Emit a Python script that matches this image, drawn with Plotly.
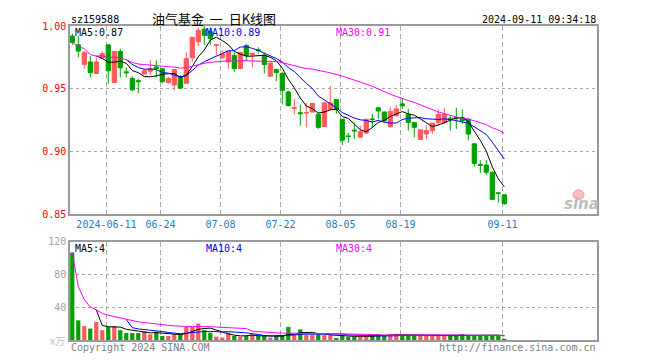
import plotly.graph_objects as go
import numpy as np

# ---------------- data ----------------
dates = [
    "2024-05-31",
    "2024-06-03", "2024-06-04", "2024-06-05", "2024-06-06", "2024-06-07",
    "2024-06-11", "2024-06-12", "2024-06-13", "2024-06-14",
    "2024-06-17", "2024-06-18", "2024-06-19", "2024-06-20", "2024-06-21",
    "2024-06-24", "2024-06-25", "2024-06-26", "2024-06-27", "2024-06-28",
    "2024-07-01", "2024-07-02", "2024-07-03", "2024-07-04", "2024-07-05",
    "2024-07-08", "2024-07-09", "2024-07-10", "2024-07-11", "2024-07-12",
    "2024-07-15", "2024-07-16", "2024-07-17", "2024-07-18", "2024-07-19",
    "2024-07-22", "2024-07-23", "2024-07-24", "2024-07-25", "2024-07-26",
    "2024-07-29", "2024-07-30", "2024-07-31", "2024-08-01", "2024-08-02",
    "2024-08-05", "2024-08-06", "2024-08-07", "2024-08-08", "2024-08-09",
    "2024-08-12", "2024-08-13", "2024-08-14", "2024-08-15", "2024-08-16",
    "2024-08-19", "2024-08-20", "2024-08-21", "2024-08-22", "2024-08-23",
    "2024-08-26", "2024-08-27", "2024-08-28", "2024-08-29", "2024-08-30",
    "2024-09-02", "2024-09-03", "2024-09-04", "2024-09-05", "2024-09-06",
    "2024-09-09", "2024-09-10", "2024-09-11",
]

opens = [
    0.992, 0.985, 0.9695, 0.9714, 0.9622, 0.9745, 0.985, 0.955, 0.9797, 0.9635,
    0.9583, 0.9565, 0.9617, 0.964, 0.9674, 0.966, 0.955, 0.953, 0.9597, 0.9544,
    0.9747, 0.9875, 0.9975, 0.9955, 0.9846, 0.9747, 0.9714, 0.9766, 0.9661, 0.9844,
    0.977, 0.981, 0.9766, 0.960, 0.9654, 0.9622, 0.9475, 0.9344, 0.931, 0.9307,
    0.9315, 0.9297, 0.920, 0.9336, 0.9414, 0.9258, 0.9125, 0.917, 0.9115, 0.9148,
    0.926, 0.9349, 0.9315, 0.920, 0.9285, 0.938, 0.9297, 0.9232, 0.9096, 0.914,
    0.9167, 0.9232, 0.9232, 0.9266, 0.9273, 0.9271, 0.9258, 0.9062, 0.8898, 0.8893,
    0.8836, 0.8672, 0.8656,
]
highs = [
    0.994, 0.992, 0.980, 0.976, 0.975, 0.980, 0.985, 0.9797, 0.982, 0.967,
    0.960, 0.958, 0.9661, 0.9727, 0.9727, 0.966, 0.9596, 0.9654, 0.961, 0.979,
    0.991, 0.9985, 1.000, 0.999, 0.9857, 0.9805, 0.980, 0.979, 0.979, 0.9857,
    0.9784, 0.983, 0.979, 0.9706, 0.966, 0.9635, 0.9485, 0.942, 0.9375, 0.9388,
    0.9388, 0.931, 0.9395, 0.9523, 0.9414, 0.926, 0.915, 0.923, 0.9205, 0.926,
    0.930, 0.935, 0.932, 0.935, 0.937, 0.9425, 0.934, 0.9232, 0.9174, 0.921,
    0.9227, 0.9336, 0.935, 0.9287, 0.9349, 0.9336, 0.9265, 0.9065, 0.8932, 0.8932,
    0.8836, 0.8677, 0.8659,
]
lows = [
    0.985, 0.975, 0.966, 0.959, 0.962, 0.974, 0.954, 0.955, 0.959, 0.959,
    0.948, 0.9466, 0.9617, 0.961, 0.959, 0.9544, 0.954, 0.9487, 0.9505, 0.9544,
    0.9714, 0.984, 0.985, 0.985, 0.9766, 0.974, 0.966, 0.9635, 0.9661, 0.9719,
    0.967, 0.978, 0.9622, 0.960, 0.956, 0.9375, 0.936, 0.9297, 0.9206, 0.9193,
    0.9313, 0.918, 0.920, 0.9336, 0.930, 0.905, 0.907, 0.910, 0.911, 0.914,
    0.919, 0.926, 0.9235, 0.919, 0.928, 0.934, 0.9167, 0.9115, 0.909, 0.910,
    0.914, 0.9206, 0.922, 0.9167, 0.918, 0.922, 0.9089, 0.888, 0.8828, 0.8815,
    0.8612, 0.8594, 0.8576,
]
closes = [
    0.987, 0.980, 0.979, 0.9628, 0.9714, 0.978, 0.9643, 0.9797, 0.9667, 0.9628,
    0.9492, 0.9557, 0.9643, 0.966, 0.966, 0.9557, 0.9583, 0.9654, 0.9505, 0.974,
    0.991, 0.9965, 0.9925, 0.990, 0.9852, 0.9779, 0.980, 0.9661, 0.979, 0.9766,
    0.9784, 0.9805, 0.9693, 0.9706, 0.963, 0.9487, 0.9367, 0.9349, 0.9302, 0.931,
    0.9383, 0.9193, 0.9388, 0.9388, 0.9336, 0.909, 0.912, 0.9165, 0.916, 0.9258,
    0.9255, 0.9323, 0.9245, 0.932, 0.934, 0.9365, 0.9232, 0.9193, 0.9174, 0.9167,
    0.9227, 0.9297, 0.9297, 0.9255, 0.9265, 0.9245, 0.914, 0.8906, 0.889, 0.8836,
    0.862, 0.8667, 0.8586,
]
volumes = [
    107, 24, 17, 14, 22, 12, 16, 17, 12, 8.5,
    8.5, 8.5, 11, 7, 10, 5, 5, 7, 6, 16,
    16, 20, 12, 9, 4, 3, 9, 5, 4, 5,
    7, 5, 5, 3, 5, 5, 16, 6, 13, 6,
    6, 7, 6, 6, 2.5, 6, 4, 4, 4, 5,
    6, 7, 5, 7, 7, 6, 6, 6, 6, 5,
    5, 5, 5, 5, 6, 7, 6, 6, 6, 6,
    6, 6, 1.6,
]

tick_dates = ["2024-06-11", "2024-06-24", "2024-07-08", "2024-07-22",
              "2024-08-05", "2024-08-19", "2024-09-11"]
tick_labels = ["2024-06-11", "06-24", "07-08", "07-22", "08-05", "08-19", "09-11"]
price_ticks = [0.85, 0.90, 0.95, 1.00]
price_tick_labels = ["0.85", "0.90", "0.95", "1.00"]
vol_ticks = [40, 80, 120]
vol_tick_labels = ["40", "80", "120"]

# ---------------- helpers ----------------
def moving_average(vals, n, expanding=False):
    out = []
    for i in range(len(vals)):
        if i < n - 1:
            out.append(float(np.mean(vals[:i + 1])) if expanding else None)
        else:
            out.append(float(np.mean(vals[i - n + 1:i + 1])))
    return out

x = list(range(len(dates)))
tick_pos = [dates.index(d) - 0.3 for d in tick_dates]

RED = "#FF5A5A"
GREEN = "#00A000"
MONO = "DejaVu Sans Mono"

vol_colors = [RED if c >= o else GREEN for o, c in zip(opens, closes)]

fig = go.Figure()

fig.add_trace(go.Candlestick(
    x=x, open=opens, high=highs, low=lows, close=closes,
    increasing=dict(line=dict(color=RED, width=1), fillcolor=RED),
    decreasing=dict(line=dict(color=GREEN, width=1), fillcolor=GREEN),
    whiskerwidth=0, xaxis="x", yaxis="y", hoverinfo="skip",
))

for vals, n, col, exp in [(closes, 5, "black", False), (closes, 10, "#0000FF", False),
                          (closes, 30, "#FF00FF", True)]:
    fig.add_trace(go.Scatter(x=x, y=moving_average(vals, n, exp), mode="lines",
                             line=dict(color=col, width=1), xaxis="x", yaxis="y",
                             hoverinfo="skip"))

fig.add_trace(go.Bar(x=x, y=volumes, marker=dict(color=vol_colors, line=dict(width=0)),
                     width=0.7, xaxis="x2", yaxis="y2", hoverinfo="skip"))

for vals, n, col, exp in [(volumes, 5, "black", False), (volumes, 10, "#0000FF", False),
                          (volumes, 30, "#FF00FF", True)]:
    fig.add_trace(go.Scatter(x=x, y=moving_average(vals, n, exp), mode="lines",
                             line=dict(color=col, width=1), xaxis="x2", yaxis="y2",
                             hoverinfo="skip"))

xr = [-0.38, 87.45]
axis_common = dict(showline=True, mirror=True, linecolor="#9a9a9a", linewidth=1.5,
                   zeroline=False, ticks="", fixedrange=True)

# page body has an 8px margin, so the figure is shifted; plot area is at x 70-597, y 20-340
fig.update_layout(
    width=652, height=352,
    margin=dict(l=62, r=63, t=12, b=20),
    paper_bgcolor="white", plot_bgcolor="white",
    showlegend=False, boxgap=0.3, boxgroupgap=0,
    xaxis=dict(domain=[0, 1], anchor="y", range=xr, tickvals=tick_pos, ticktext=tick_labels,
               tickfont=dict(family=MONO, size=10, color="#1a80c8"),
               showgrid=True, gridcolor="#a8a8a8", griddash="5px,3px", gridwidth=1,
               rangeslider=dict(visible=False), **axis_common),
    yaxis=dict(domain=[0.4, 1.0], anchor="x", range=[0.85, 1.0], tickvals=price_ticks,
               ticktext=price_tick_labels, tickfont=dict(family=MONO, size=10, color="#FF0000"),
               showgrid=True, gridcolor="#a8a8a8", griddash="dot", gridwidth=1, **axis_common),
    xaxis2=dict(domain=[0, 1], anchor="y2", range=xr, tickvals=tick_pos, showticklabels=False,
                showgrid=True, gridcolor="#a8a8a8", griddash="5px,3px", gridwidth=1,
                **axis_common),
    yaxis2=dict(domain=[0, 0.3125], anchor="x2", range=[0, 120], tickvals=vol_ticks,
                ticktext=vol_tick_labels, tickfont=dict(family=MONO, size=10, color="#a0a0a0"),
                showgrid=True, gridcolor="#a8a8a8", griddash="dot", gridwidth=1, **axis_common),
)

def px_x(px):
    return (px - 70) / 527.0

def px_y(py):
    return (340 - py) / 320.0

def ann(text, px, py, anchor="left", color="black", size=10, family=MONO, **kw):
    fig.add_annotation(text=text, x=px_x(px), y=px_y(py), xref="paper", yref="paper",
                       xanchor=anchor, yanchor="middle", showarrow=False,
                       font=dict(family=family, size=size, color=color), **kw)

ann("sz159588", 69, 13)
ann("油气基金\u00a0\u00a0一\u00a0\u00a0日K线图", 213.5, 12, anchor="center", size=13,
    family="Noto Sans CJK SC")
ann("2024-09-11 09:34:18", 598, 13, anchor="right")
ann("MA5:0.87", 73, 27)
ann("MA10:0.89", 204, 27, color="#0000FF")
ann("MA30:0.91", 334, 27, color="#FF00FF")
ann("MA5:4", 73, 247)
ann("MA10:4", 204, 247, color="#0000FF")
ann("MA30:4", 334, 247, color="#FF00FF")
ann("x万", 67, 340, anchor="right", color="#bdbdbd", family="Noto Sans CJK SC", size=10)
ann("Copyright 2024 SINA.COM", 69, 348, color="#808080")
ann("http://finance.sina.com.cn", 598, 348, anchor="right", color="#808080")
# sina watermark logo
fig.add_shape(type="circle", xref="paper", yref="paper",
              x0=px_x(573), x1=px_x(584), y0=px_y(197), y1=px_y(187),
              fillcolor="#f6c0c0", line=dict(color="#eea0a0", width=1), layer="below")
ann("<b><i>sina</i></b>", 581, 201, anchor="center", color="#bdbdbd", size=15,
    family="DejaVu Sans")

fig.write_html("out.html")
